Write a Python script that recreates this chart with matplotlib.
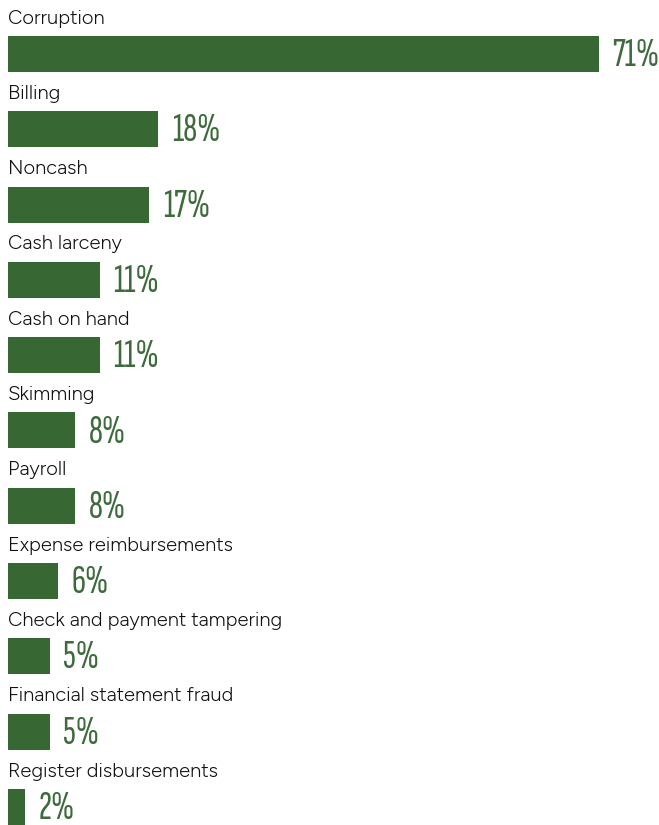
import matplotlib.pyplot as plt

categories = ["Corruption", "Billing", "Noncash", "Cash larceny", "Cash on hand",
              "Skimming", "Payroll", "Expense reimbursements",
              "Check and payment tampering", "Financial statement fraud",
              "Register disbursements"]
values = [71, 18, 17, 11, 11, 8, 8, 6, 5, 5, 2]

bar_color = "#376834"
num_color = "#3d6b3c"

fig = plt.figure(figsize=(6.59, 8.25), dpi=100)
ax = fig.add_axes([0, 0, 1, 1])

pos = list(range(len(categories)))
ax.barh(pos, values, height=0.478, color=bar_color)

for i, (cat, v) in enumerate(zip(categories, values)):
    ax.text(0, i - 0.47, cat, ha="left", va="center", fontsize=14.5,
            family=["Figtree", "DejaVu Sans"], color="#111111")
    ax.annotate(f"{v}%", (v, i), xytext=(10, -1.5), textcoords="offset points",
                ha="left", va="center", fontsize=28.5,
                family=["Sofia Sans Extra Condensed", "DejaVu Sans"],
                color=num_color)

ax.set_xlim(-0.96, 78.25)
ax.set_ylim(10.24, -0.717)
ax.axis("off")

fig.savefig("out.png", dpi=100)
